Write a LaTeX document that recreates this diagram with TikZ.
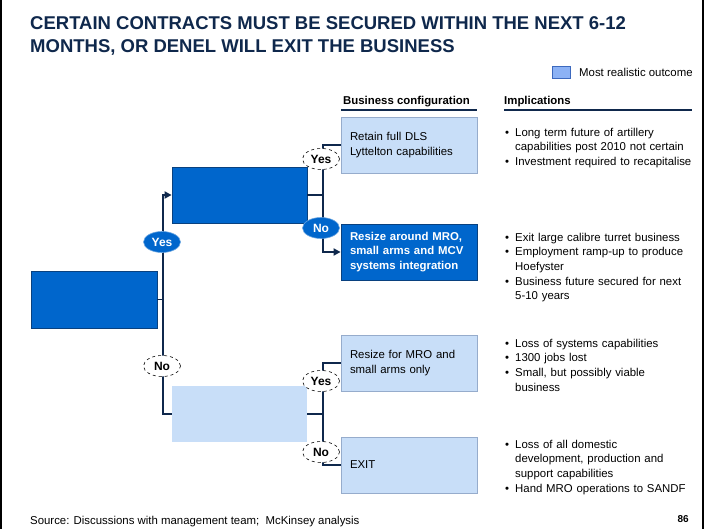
\documentclass[tikz,border=0pt]{standalone}
\usepackage{fontspec}
\setmainfont{Liberation Sans}
\usetikzlibrary{arrows.meta,shapes.geometric}
\definecolor{navy}{RGB}{15,40,76}
\definecolor{dblue}{RGB}{0,102,204}
\definecolor{lblue}{RGB}{200,222,248}
\definecolor{lborder}{RGB}{150,172,204}
\definecolor{legfill}{RGB}{140,178,245}
\definecolor{legdraw}{RGB}{60,105,190}
\newcommand\impbul{\makebox[10pt][l]{\textbullet}}
\newcommand\impind{\hspace*{10pt}}
\begin{document}
\begin{tikzpicture}[x=1pt,y=-1pt,
  body/.style={font=\fontsize{11.4}{14.7}\selectfont},
  conn/.style={draw=navy, line width=1.9pt},
  arr/.style={-{Triangle[length=7pt,width=7pt]}},
  bluebox/.style={draw=navy!60!dblue, line width=0.8pt, fill=dblue, inner sep=0pt},
  lightbox/.style={draw=lborder, line width=0.8pt, fill=lblue, inner sep=0pt},
  confbox/.style={minimum width=136pt, minimum height=56pt, text width=118pt, inner xsep=9pt, inner ysep=0pt, align=left, body},
  blueyes/.style={ellipse, fill=dblue, draw=dblue!60!white, line width=0.6pt, minimum width=37pt, minimum height=21pt, inner sep=0pt, text=white, font=\fontsize{12}{14}\selectfont\bfseries},
  dashyes/.style={ellipse, fill=white, draw=black, dashed, line width=0.6pt, minimum width=37pt, minimum height=21pt, inner sep=0pt, text=black, font=\fontsize{12}{14}\selectfont\bfseries},
  impl/.style={anchor=north west, inner sep=0pt, text width=195pt, align=left, body},
  head/.style={anchor=base west, inner sep=0pt, font=\fontsize{11.4}{14}\selectfont\bfseries}
]
\useasboundingbox (0,0) rectangle (706,529);
\fill[white] (0,0) rectangle (706,529);
% frame sides
\draw[black, line width=1.6pt] (1,0) -- (1,529);
\draw[black, line width=1.4pt] (703,0) -- (703,529);

% title
\node[anchor=north west, inner sep=0pt, align=left, text=navy,
  font=\fontsize{18.5}{23.5}\selectfont\bfseries] (title) at (30,16.3)
  {CERTAIN CONTRACTS MUST BE SECURED WITHIN THE NEXT 6-12\\MONTHS, OR DENEL WILL EXIT THE BUSINESS};

% legend
\node[draw=legdraw, fill=legfill, line width=0.8pt, minimum width=18pt, minimum height=12pt, inner sep=0pt] (legbox) at (561,72) {};
\node[anchor=west, inner sep=0pt, body] (legtext) at (579,72) {Most realistic outcome};

% headers
\node[head] (h1) at (343,105) {Business configuration};
\node[head] (h2) at (504,105) {Implications};
\draw[navy, line width=1.5pt] (341,110) -- (477,110);
\draw[navy, line width=1.5pt] (504,110) -- (692,110);

% decision boxes
\node[bluebox, minimum width=126pt, minimum height=57pt] (B) at (94,299.5) {};
\node[bluebox, minimum width=135pt, minimum height=56pt] (A) at (239.5,195) {};
\node[fill=lblue, inner sep=0pt, minimum width=135pt, minimum height=56pt] (C) at (239.5,414) {};

% configuration boxes
\node[lightbox, confbox] (R1) at (409,145) {Retain full DLS\\Lyttelton capabilities};
\node[bluebox, confbox, text=white, font=\fontsize{11.4}{14.7}\selectfont\bfseries] (R2) at (409,252) {Resize around MRO,\\small arms and MCV\\systems integration};
\node[lightbox, confbox] (R3) at (409,363) {Resize for MRO and\\small arms only};
\node[lightbox, confbox] (R4) at (409,465) {EXIT};

% junctions
\coordinate (j1) at (163,299.5);
\coordinate (j2) at (323,195);
\coordinate (j3) at (323,414);

% connectors
\draw[conn] (B.east) -- (j1);
\draw[conn, arr] (j1) |- (A.west);
\draw[conn] (j1) |- (C.west);
\draw[conn] (A.east) -- (j2);
\draw[conn] (j2) |- (R1.west);
\draw[conn, arr] (j2) |- (R2.west);
\draw[conn] (C.east) -- (j3);
\draw[conn] (j3) |- (R3.west);
\draw[conn] (j3) |- (R4.west);

% decision labels
\node[blueyes] (y1) at (162,242) {Yes};
\node[dashyes] (n1) at (162,366) {No};
\node[dashyes] (y2) at (321,159) {Yes};
\node[blueyes] (n2) at (321,228) {No};
\node[dashyes] (y3) at (321,381) {Yes};
\node[dashyes] (n3) at (321,452) {No};

% implications
\node[impl] (i1) at (505,127.7) {\impbul Long term future of artillery\\\impind capabilities post 2010 not certain\\\impbul Investment required to recapitalise};
\node[impl] (i2) at (505,232.7) {\impbul Exit large calibre turret business\\\impbul Employment ramp-up to produce\\\impind Hoefyster\\\impbul Business future secured for next\\\impind 5-10 years};
\node[impl] (i3) at (505,338.7) {\impbul Loss of systems capabilities\\\impbul 1300 jobs lost\\\impbul Small, but possibly viable\\\impind business};
\node[impl] (i4) at (505,439.7) {\impbul Loss of all domestic\\\impind development, production and\\\impind support capabilities\\\impbul Hand MRO operations to SANDF};

% footer
\node[anchor=base west, inner sep=0pt, body] (src) at (30,524) {Source: Discussions with management team;\ \ McKinsey analysis};
\node[anchor=base east, inner sep=0pt, font=\fontsize{10}{12}\selectfont\bfseries] (pg) at (689,522) {86};
\end{tikzpicture}
\end{document}
